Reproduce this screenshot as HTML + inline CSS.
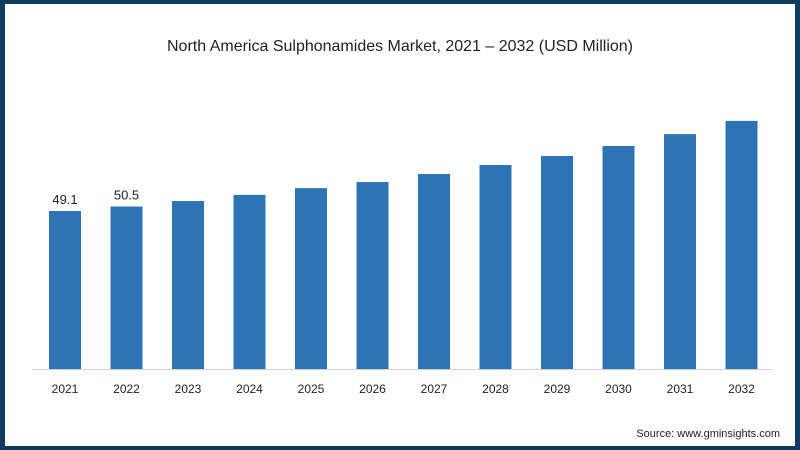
<!DOCTYPE html>
<html><head><meta charset="utf-8"><style>
body{margin:0;background:#fff}
#wrap{width:800px;height:450px;box-sizing:border-box;border:4px solid #0f3b5e;border-width:4px 5px 4px 5px;position:relative;background:#fff;overflow:hidden}
svg{position:absolute;left:-5px;top:-4px}
text{font-family:"Liberation Sans",sans-serif;fill:#222}
</style></head><body>
<div id="wrap">
<svg id="chart" width="800" height="450">
<text x="400" y="51" text-anchor="middle" font-size="16">North America Sulphonamides Market, 2021 – 2032 (USD Million)</text>
<line x1="33" y1="369.5" x2="772" y2="369.5" stroke="#d0d0d0" stroke-width="1"/>
<text x="780" y="437" text-anchor="end" font-size="11">Source: www.gminsights.com</text>
</svg>
</div>
<script>
const categories=["2021","2022","2023","2024","2025","2026","2027","2028","2029","2030","2031","2032"];
const values=[49.1,50.5,52.2,54.1,56.2,58.1,60.6,63.4,66.2,69.3,73.0,77.1];
const labels=["49.1","50.5","","","","","","","","","",""];
const svg=document.getElementById('chart');
const NS='http://www.w3.org/2000/svg';
const base=369,scale=3.218,x0=65,step=61.5,bw=32;
const xs=i=>x0+i*step;
const ys=v=>base-v*scale;
categories.forEach((c,i)=>{
  const r=document.createElementNS(NS,'rect');
  r.setAttribute('x',xs(i)-bw/2);r.setAttribute('y',ys(values[i]));
  r.setAttribute('width',bw);r.setAttribute('height',base-ys(values[i]));
  r.setAttribute('fill','#2e74b5');
  
  
  svg.appendChild(r);
  const t=document.createElementNS(NS,'text');
  t.setAttribute('x',xs(i));t.setAttribute('y',393);t.setAttribute('text-anchor','middle');t.setAttribute('font-size','12');
  t.textContent=c;
  
  
  svg.appendChild(t);
  if(labels[i]){
    const l=document.createElementNS(NS,'text');
    l.setAttribute('x',xs(i));l.setAttribute('y',ys(values[i])-7);l.setAttribute('text-anchor','middle');l.setAttribute('font-size','13');
    l.textContent=labels[i];
    
    
    svg.appendChild(l);
  }
});
</script>
</body></html>
